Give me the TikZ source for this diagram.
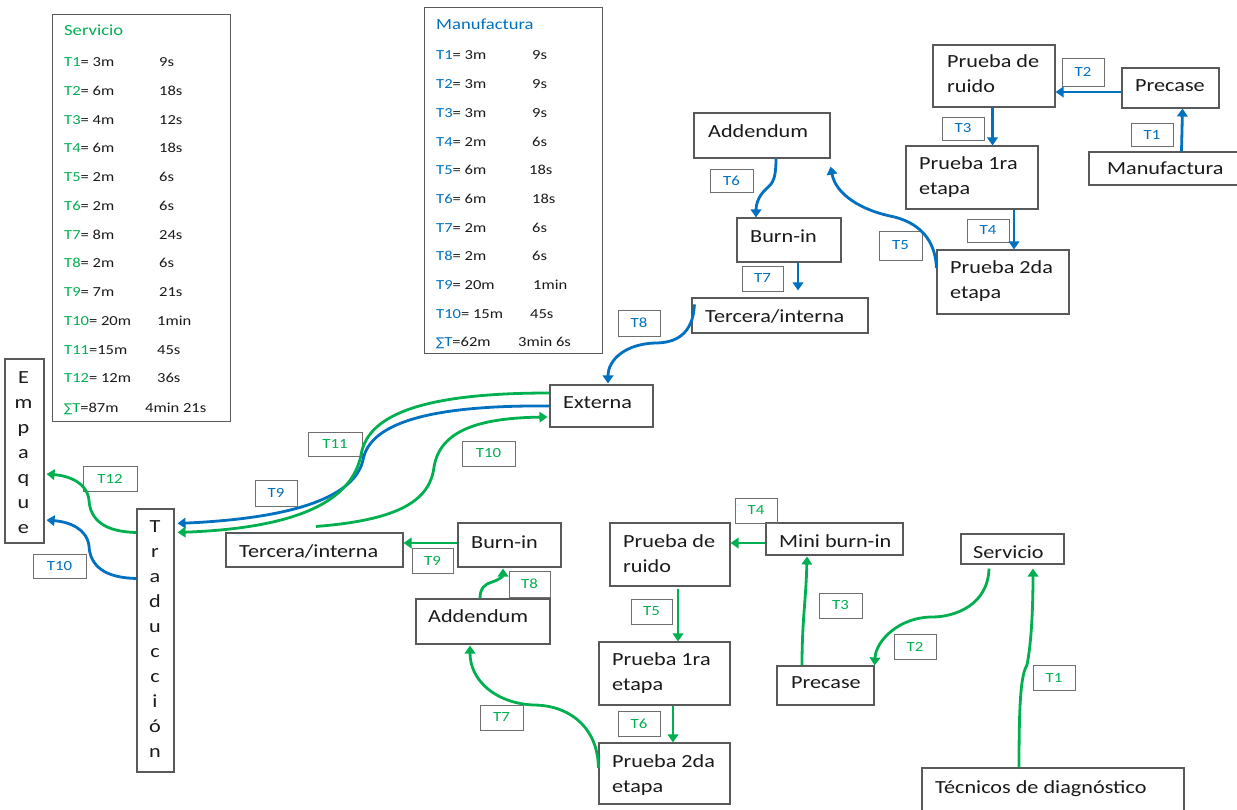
\documentclass[tikz,border=0pt]{standalone}
\usepackage{fontspec}
\setmainfont{Carlito}[FakeStretch=1.2]
\newfontfamily\sigfont{DejaVu Sans}
\usetikzlibrary{arrows.meta,fit,calc}
\definecolor{sgreen}{HTML}{00B050}
\definecolor{mblue}{HTML}{0070C0}
\definecolor{frame}{HTML}{595959}
\definecolor{lframe}{HTML}{6F6F6F}
\definecolor{ink}{HTML}{1A1A1A}
\tikzset{
  pbox/.style={draw=frame, line width=1.1pt, inner sep=0pt},
  legbox/.style={draw=frame, line width=1pt, inner sep=0pt},
  lbox/.style={draw=lframe, line width=0.9pt, inner sep=0pt, font=\fontsize{14}{14}\selectfont},
  glab/.style={lbox, text=sgreen},
  blab/.style={lbox, text=mblue},
  btxt/.style={inner sep=0pt, anchor=base west, font=\fontsize{18.5}{20}\selectfont, text=ink},
  vtxt/.style={inner sep=0pt, anchor=base, font=\fontsize{18.5}{20}\selectfont, text=ink},
  ltxt/.style={inner sep=0pt, anchor=base west, font=\fontsize{13.8}{14}\selectfont, text=ink},
  ttxt/.style={inner sep=0pt, anchor=base west, font=\fontsize{15.5}{16}\selectfont},
  flow/.style={line width=2.8pt, -{Triangle[length=8pt,width=10.5pt]}},
  gflow/.style={flow, draw=sgreen},
  bflow/.style={flow, draw=mblue},
}
\newcommand\sumsign[1]{{\sigfont\fontsize{12}{12}\selectfont\color{#1}∑}}
% transfer label: style, corner x1 y1, corner x2 y2, name, text
\newcommand\tlab[7]{%
  \node[#1, minimum width={(#4)-(#2)}, minimum height={(#5)-(#3)}]
    (#6) at ({((#2)+(#4))/2},{((#3)+(#5))/2}) {#7};}
\begin{document}
\begin{tikzpicture}[x=1pt,y=-1pt]
\useasboundingbox (0,0) rectangle (1237,810);
\fill[white] (0,0) rectangle (1237,810);
\clip (0,0) rectangle (1237,810);

% ---------- time tables ----------
\node[legbox, fit={(52,15) (230,421)}] (legS) {};
\node[ttxt, text=sgreen] (legS-title) at (64,36) {Servicio};
\foreach \tn/\tr/\tv/\tx [count=\k from 0] in {
  T1/= 3m/9s/159, T2/= 6m/18s/159, T3/= 4m/12s/159, T4/= 6m/18s/159,
  T5/= 2m/6s/159, T6/= 2m/6s/159, T7/= 8m/24s/159, T8/= 2m/6s/159,
  T9/= 7m/21s/159, T10/= 20m/1min/157, T11/=15m/45s/157, T12/= 12m/36s/157}{
  \node[ltxt] (sva\k) at (64,{66.7+28.75*\k}) {\textcolor{sgreen}{\tn}\tr};
  \node[ltxt] (svb\k) at (\tx,{66.7+28.75*\k}) {\tv};
}
\node[ltxt] (sva-sum) at (64,412.5) {\sumsign{sgreen}\textcolor{sgreen}{T}=87m};
\node[ltxt] (svb-sum) at (145,412.5) {4min 21s};

\node[legbox, fit={(424,8) (602,353)}] (legM) {};
\node[ttxt, text=mblue] (legM-title) at (436,30) {Manufactura};
\foreach \tn/\tr/\tv/\tx [count=\k from 0] in {
  T1/= 3m/9s/532, T2/= 3m/9s/532, T3/= 3m/9s/532, T4/= 2m/6s/532,
  T5/= 6m/18s/529, T6/= 6m/18s/532, T7/= 2m/6s/532, T8/= 2m/6s/532,
  T9/= 20m/1min/533, T10/= 15m/45s/530}{
  \node[ltxt] (mva\k) at (436,{60+28.7*\k}) {\textcolor{mblue}{\tn}\tr};
  \node[ltxt] (mvb\k) at (\tx,{60+28.7*\k}) {\tv};
}
\node[ltxt] (mva-sum) at (436,347) {\sumsign{mblue}\textcolor{mblue}{T}=62m};
\node[ltxt] (mvb-sum) at (518,347) {3min 6s};

% ---------- manufacturing flow (upper right) ----------
\node[pbox, fit={(933,45) (1055,107)}] (mruido) {};
\node[btxt] (mruido-a) at (947,68) {Prueba de};
\node[btxt] (mruido-b) at (947,93) {ruido};
\node[pbox, fit={(1122,68) (1219,108)}] (mprecase) {};
\node[btxt] (mprecase-a) at (1135,92) {Precase};
\node[pbox, fit={(1089,152) (1240,185)}] (mmanu) {};
\node[btxt] (mmanu-a) at (1107,175) {Manufactura};
\node[pbox, fit={(906,146) (1038,209)}] (mp1) {};
\node[btxt] (mp1-a) at (919,170) {Prueba 1ra};
\node[btxt] (mp1-b) at (919,195) {etapa};
\node[pbox, fit={(937,250) (1069,314)}] (mp2) {};
\node[btxt] (mp2-a) at (950,274) {Prueba 2da};
\node[btxt] (mp2-b) at (950,299) {etapa};
\node[pbox, fit={(694,113) (830,158)}] (madd) {};
\node[btxt] (madd-a) at (708,138) {Addendum};
\node[pbox, fit={(737,218) (841,262)}] (mburn) {};
\node[btxt] (mburn-a) at (750,243) {Burn-in};
\node[pbox, fit={(692,298) (868,333)}] (mterc) {};
\node[btxt] (mterc-a) at (705,323) {Tercera/interna};
\node[pbox, fit={(550,385) (653,427)}] (ext) {};
\node[btxt] (ext-a) at (563,408) {Externa};

% ---------- shared end stations ----------
\node[pbox, fit={(5,359) (44,543)}] (emp) {};
\foreach \ch [count=\k from 0] in {E,m,p,a,q,u,e}
  \node[vtxt] (emp-\k) at (23.5,{383+25.1*\k}) {\ch};
\node[pbox, fit={(137,509) (174,772)}] (trad) {};
\foreach \ch [count=\k from 0] in {T,r,a,d,u,c,c,i,ó,n}
  \node[vtxt] (trad-\k) at (155,{532+25*\k}) {\ch};

% ---------- service flow (lower half) ----------
\node[pbox, fit={(226,533) (403,567)}] (stercb) {};
\node[btxt] (stercb-a) at (239,557) {Tercera/interna};
\node[pbox, fit={(458,523) (561,567)}] (sburn) {};
\node[btxt] (sburn-a) at (471,548) {Burn-in};
\node[pbox, fit={(416,599) (550,644)}] (sadd) {};
\node[btxt] (sadd-a) at (428,622) {Addendum};
\node[pbox, fit={(610,523) (730,586)}] (sruido) {};
\node[btxt] (sruido-a) at (623,547) {Prueba de};
\node[btxt] (sruido-b) at (623,572) {ruido};
\node[pbox, fit={(766,523) (903,555)}] (smini) {};
\node[btxt] (smini-a) at (779,547) {Mini burn-in};
\node[pbox, fit={(599,642) (730,705)}] (sp1) {};
\node[btxt] (sp1-a) at (612,665) {Prueba 1ra};
\node[btxt] (sp1-b) at (612,690) {etapa};
\node[pbox, fit={(599,743) (730,804)}] (sp2) {};
\node[btxt] (sp2-a) at (612,767) {Prueba 2da};
\node[btxt] (sp2-b) at (612,792) {etapa};
\node[pbox, fit={(777,666) (874,705)}] (sprecase) {};
\node[btxt] (sprecase-a) at (791,688) {Precase};
\node[pbox, fit={(961,534) (1064,564)}] (sserv) {};
\node[btxt] (sserv-a) at (973,558) {Servicio};
\node[pbox, fit={(922,768) (1184,818)}] (stec) {};
\node[btxt] (stec-a) at (935,793) {Técnicos de diagnóstico};

% ---------- transfer labels ----------
\tlab{blab}{1131}{123}{1173}{146}{lm1}{T1}
\tlab{blab}{1062}{58}{1104}{86}{lm2}{T2}
\tlab{blab}{942}{117}{984}{140}{lm3}{T3}
\tlab{blab}{967}{219}{1009}{242}{lm4}{T4}
\tlab{blab}{879}{231}{922}{260}{lm5}{T5}
\tlab{blab}{710}{169}{753}{192}{lm6}{T6}
\tlab{blab}{742}{266}{783}{291}{lm7}{T7}
\tlab{blab}{618}{310}{660}{336}{lm8}{T8}
\tlab{blab}{255}{480}{297}{506}{lm9}{T9}
\tlab{blab}{33}{554}{86}{578}{lm10}{T10}

\tlab{glab}{1033}{665}{1075}{690}{ls1}{T1}
\tlab{glab}{894}{634}{936}{659}{ls2}{T2}
\tlab{glab}{819}{593}{862}{618}{ls3}{T3}
\tlab{glab}{735}{498}{777}{523}{ls4}{T4}
\tlab{glab}{631}{599}{672}{624}{ls5}{T5}
\tlab{glab}{618}{711}{660}{736}{ls6}{T6}
\tlab{glab}{480}{705}{523}{730}{ls7}{T7}
\tlab{glab}{509}{571}{550}{597}{ls8}{T8}
\tlab{glab}{412}{548}{453}{573}{ls9}{T9}
\tlab{glab}{462}{441}{515}{466}{ls10}{T10}
\tlab{glab}{308}{432}{362}{456}{ls11}{T11}
\tlab{glab}{83}{466}{137}{491}{ls12}{T12}

% ---------- manufacturing connectors ----------
\draw[bflow] ([xshift=17pt]mmanu.north) -- ([xshift=12pt]mprecase.south);
\draw[bflow] ([yshift=-4pt]mprecase.west) -- ([yshift=-4pt]mprecase.west -| mruido.east);
\draw[bflow] ([xshift=-1.5pt]mruido.south) -- ([xshift=-1.5pt]mruido.south |- mp1.north);
\draw[bflow] ([xshift=42pt]mp1.south) -- ([xshift=42pt]mp1.south |- mp2.north);
\draw[bflow] ([yshift=14pt]mp2.west) .. controls (935,232) and (910,220) .. (890,216)
  .. controls (862,210) and (836,195) .. ([yshift=-8pt]madd.south east);
\draw[bflow] ([xshift=14pt]madd.south) .. controls (776,183) and (771,184) .. (765,190)
  .. controls (758,197) and (756,205) .. ([xshift=-33pt]mburn.north);
\draw[bflow] ([xshift=9pt]mburn.south) -- ([xshift=18pt,yshift=7pt]mterc.north);
\draw[bflow] ([xshift=3pt,yshift=-7pt]mterc.north west) .. controls (693,335) and (675,343) .. (655,343)
  .. controls (625,344) and (608,360) .. ([xshift=6.5pt,yshift=1pt]ext.north);
\draw[bflow] (ext.west) .. controls (440,405) and (370,420) .. (363,460)
  .. controls (355,495) and (300,518) .. ([xshift=3pt,yshift=-15pt]trad.north east);
\draw[bflow] ([yshift=-70pt]trad.north west) .. controls (105,578) and (90,566) .. (89,546)
  .. controls (87,529) and (70,522) .. ([xshift=2pt,yshift=-69pt]emp.east);

% ---------- service connectors ----------
\draw[gflow] ([xshift=-34pt]stec.north) .. controls (1019,700) and (1021,675) .. (1027,665)
  .. controls (1032,640) and (1033,600) .. ([xshift=20.5pt,yshift=-4pt]sserv.south);
\draw[gflow] ([xshift=-23.5pt,yshift=-4pt]sserv.south) .. controls (988,605) and (955,617) .. (932,617)
  .. controls (900,617) and (876,640) .. (sprecase.north east);
\draw[gflow] ([xshift=-23.5pt]sprecase.north) .. controls (802,620) and (806,600) .. ([xshift=-27.5pt,yshift=-1pt]smini.south);
\draw[gflow] ([yshift=-4pt]smini.west) -- ([yshift=-4pt]smini.west -| sruido.east);
\draw[gflow] ([xshift=8pt,yshift=-2pt]sruido.south) -- ([xshift=8pt]sruido.south |- sp1.north);
\draw[gflow] ([xshift=8.5pt]sp1.south) -- ([xshift=8.5pt]sp1.south |- sp2.north);
\draw[gflow] ([yshift=5.5pt]sp2.west) .. controls (598,728) and (570,705) .. (533,705)
  .. controls (495,703) and (470,680) .. ([xshift=-13pt,yshift=-1pt]sadd.south);
\draw[gflow] ([xshift=-3pt]sadd.north) .. controls (480,588) and (485,584) .. (492,582)
  .. controls (499,580) and (503,576) .. ([xshift=-6.5pt,yshift=-1pt]sburn.south);
\draw[gflow] ([yshift=2pt]sburn.west) -- ([yshift=2pt]sburn.west -| stercb.east);
\draw[gflow] ($(stercb.north)+(1.5,-6)$) .. controls (400,520) and (430,500) .. (434,467)
  .. controls (440,430) and (480,418) .. ([xshift=-2pt,yshift=-11pt]ext.west);
\draw[gflow] ([yshift=13pt]ext.west) .. controls (430,393) and (368,412) .. (361,455)
  .. controls (352,500) and (300,528) .. ([xshift=3pt,yshift=-24pt]trad.north east);
\draw[gflow] ([yshift=-24pt]trad.north west) .. controls (105,532) and (90,520) .. (89,500)
  .. controls (87,483) and (70,476) .. ([xshift=2pt,yshift=-23pt]emp.east);
\end{tikzpicture}
\end{document}
